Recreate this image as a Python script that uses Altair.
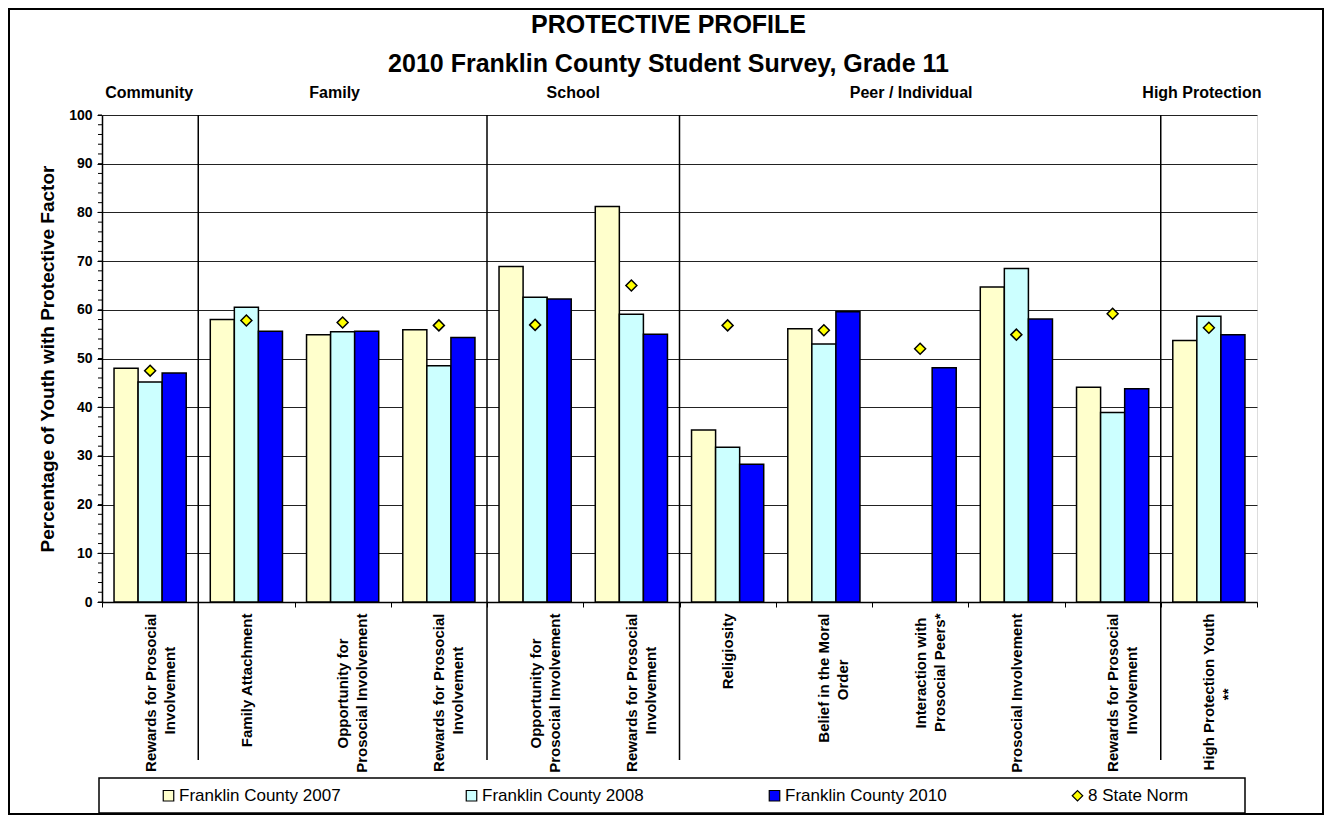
import altair as alt
import pandas as pd

NB = "\u00a0"
ZW = "\u200b"  # keeps trailing no-break spaces from being trimmed

# ---------------- data ----------------
keys = [f"c{i:02d}" for i in range(1, 13)]
label_lines = [
    ["Rewards for Prosocial", "Involvement" + NB * 8 + ZW],
    ["Family Attachment"],
    ["Opportunity for" + NB * 6 + ZW, "Prosocial Involvement"],
    ["Rewards for Prosocial", "Involvement" + NB * 8 + ZW],
    ["Opportunity for" + NB * 6 + ZW, "Prosocial Involvement"],
    ["Rewards for Prosocial", "Involvement" + NB * 8 + ZW],
    ["Religiosity"],
    ["Belief in the Moral", "Order" + NB * 11 + ZW],
    ["Interaction with" + NB + ZW, "Prosocial Peers*"],
    ["Prosocial Involvement"],
    ["Rewards for Prosocial", "Involvement" + NB * 8 + ZW],
    ["High Protection Youth", "**" + NB * 18 + ZW],
]
group_names = ["Community", "Family", "School", "Peer / Individual", "High Protection"]
group_anchor = ["c01", "c03", "c05", "c09", "c12"]
separator_keys = ["c02", "c05", "c07", "c12"]

series_names = ["Franklin County 2007", "Franklin County 2008", "Franklin County 2010"]
norm_name = "8 State Norm"
fc2007 = [48.0, 58.0, 54.9, 55.9, 68.9, 81.2, 35.3, 56.1, None, 64.7, 44.1, 53.7]
fc2008 = [45.2, 60.5, 55.5, 48.5, 62.6, 59.1, 31.8, 53.0, None, 68.5, 38.9, 58.7]
fc2010 = [47.0, 55.6, 55.6, 54.3, 62.2, 55.0, 28.3, 59.6, 48.1, 58.1, 43.8, 54.9]
norm = [47.5, 57.8, 57.4, 56.8, 56.9, 65.0, 56.8, 55.8, 52.0, 54.9, 59.2, 56.3]

title_text = "PROTECTIVE PROFILE"
subtitle_text = "2010 Franklin County Student Survey, Grade 11"
y_title = "Percentage of Youth with Protective Factor"
y_ticks = list(range(0, 101, 10))
y_minor = list(range(0, 101, 2))

# ---------------- tables ----------------
rows = []
for i, k in enumerate(keys):
    for s, vals in zip(series_names, [fc2007, fc2008, fc2010]):
        if vals[i] is not None:
            rows.append({"key": k, "series": s, "value": vals[i]})
bars_df = pd.DataFrame(rows)
norm_df = pd.DataFrame({"key": keys, "series": norm_name, "value": norm})

all_series = series_names + [norm_name]
color_scale = alt.Scale(domain=all_series, range=["#FFFFCC", "#CCFFFF", "#0000FF", "#FFFF00"])
shape_scale = alt.Scale(domain=all_series, range=["square", "square", "square", "diamond"])

W, H = 1155, 487
FONT = "Liberation Sans"


def js(s):
    return "'" + s.replace("'", "\\'") + "'"


label_expr = "{" + ",".join(
    f"{js(k)}: [{','.join(js(l) for l in lines)}]" for k, lines in zip(keys, label_lines)
) + "}[datum.value]"

x_scale = alt.Scale(domain=keys, paddingInner=0, paddingOuter=0)
x_axis = alt.Axis(
    title=None, labelExpr=label_expr, labelAngle=270, labelAlign="right",
    labelBaseline="middle", labelFontSize=15, labelFontWeight="bold",
    labelLineHeight=19, labelPadding=6, labelLimit=0, tickBand="extent",
    tickSize=5, tickColor="black", domainColor="black", domainWidth=1.5,
    grid=False, labelColor="black", labelFont=FONT,
)
y_scale = alt.Scale(domain=[0, 100], nice=False)
y_axis = alt.Axis(
    values=y_ticks, title=y_title, titleFontSize=19, titleFontWeight="bold",
    titleFont=FONT, titleColor="black", titleAngle=270, titleX=-55, titleY=H / 2,
    titleAlign="center", titleBaseline="middle",
    labelFontSize=14, labelFontWeight="bold", labelFont=FONT, labelColor="black",
    labelPadding=5, tickSize=5, tickColor="black", domainColor="black", domainWidth=1.5,
    grid=True, gridColor="#222", gridWidth=1,
)

legend = alt.Legend(
    title=None, orient="none", legendX=58, legendY=672, direction="horizontal",
    columns=4, labelFontSize=17, labelFont=FONT, labelColor="black",
    labelFontWeight="normal", labelLimit=0, symbolSize=110, symbolStrokeColor="black",
    symbolStrokeWidth=1.2, columnPadding=122, labelOffset=2,
)

bars = alt.Chart(bars_df).mark_bar(stroke="black", strokeWidth=1.5).encode(
    x=alt.X("key:N", scale=x_scale, axis=x_axis),
    xOffset=alt.XOffset("series:N", scale=alt.Scale(domain=series_names, paddingOuter=0.5, paddingInner=0)),
    y=alt.Y("value:Q", scale=y_scale, axis=y_axis),
    color=alt.Color("series:N", scale=color_scale, legend=legend),
)

points = alt.Chart(norm_df).mark_point(
    filled=True, stroke="black", strokeWidth=1.5, size=120, opacity=1
).encode(
    x=alt.X("key:N", scale=x_scale),
    y=alt.Y("value:Q", scale=y_scale),
    color=alt.Color("series:N", scale=color_scale, legend=legend),
    shape=alt.Shape("series:N", scale=shape_scale, legend=legend),
)

minor = alt.Chart(pd.DataFrame({"v": y_minor})).mark_rule(color="black", strokeWidth=1).encode(
    y=alt.Y("v:Q", scale=y_scale), x=alt.value(-4), x2=alt.value(0)
)

separators = alt.Chart(pd.DataFrame({"key": separator_keys})).mark_rule(
    color="black", strokeWidth=1.5
).encode(
    x=alt.X("key:N", scale=x_scale, bandPosition=0),
    y=alt.value(0), y2=alt.value(H + 158),
)

header_dx = [-1, -8, -10, -9, -7]
header_bp = [0.5, 0.5, 1.0, 0.5, 0.5]
headers = []
for name, anchor, dx, bp in zip(group_names, group_anchor, header_dx, header_bp):
    headers.append(
        alt.Chart(pd.DataFrame({"key": [anchor], "g": [name]})).mark_text(
            fontSize=16, fontWeight="bold", font=FONT, color="black",
            baseline="middle", align="center", dx=dx,
        ).encode(x=alt.X("key:N", scale=x_scale, bandPosition=bp), y=alt.value(-22), text="g:N")
    )

titles = alt.Chart(pd.DataFrame({"t": [title_text, subtitle_text], "yy": [-90, -51]})).mark_text(
    fontSize=25, fontWeight="bold", font=FONT, color="black", baseline="middle", align="center"
).encode(text="t:N", x=alt.value(W / 2 - 11), y=alt.Y("yy:Q", scale=None))

legend_box = alt.Chart(pd.DataFrame({"a": [0]})).mark_rect(
    fill="transparent", stroke="black", strokeWidth=1.5
).encode(x=alt.value(-3), x2=alt.value(1143), y=alt.value(H + 176), y2=alt.value(H + 211))

outer_box = alt.Chart(pd.DataFrame({"a": [0]})).mark_rect(
    fill="transparent", stroke="black", strokeWidth=2
).encode(x=alt.value(-93), x2=alt.value(W + 66), y=alt.value(-106), y2=alt.value(H + 212))

chart = alt.layer(
    bars, points, minor, separators, *headers, titles, legend_box, outer_box
).properties(
    width=W, height=H,
    autosize=alt.AutoSizeParams(type="none"),
    padding={"left": 94, "top": 107, "right": 67, "bottom": 213},
).configure_view(
    stroke="black", strokeWidth=1.5
).configure(font=FONT)

chart.save("out.html", embed_options={"renderer": "svg", "actions": False})
